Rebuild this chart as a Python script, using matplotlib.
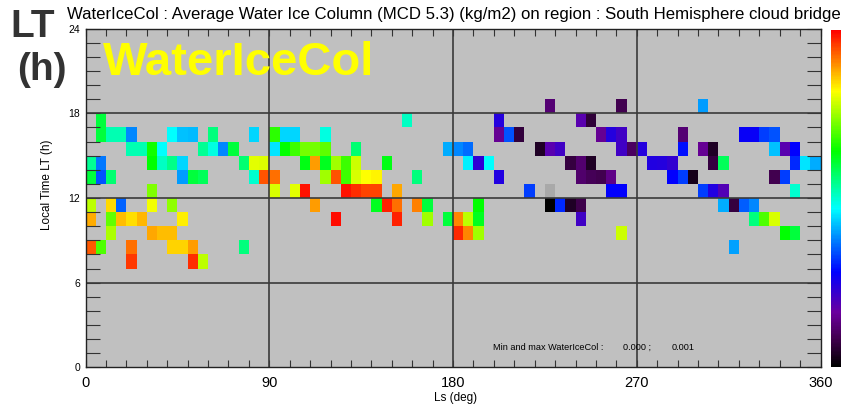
import matplotlib
matplotlib.use("Agg")
import matplotlib.pyplot as plt
import numpy as np
from matplotlib.colors import LinearSegmentedColormap
from matplotlib.ticker import MultipleLocator

# Water ice column per cell, in g/m2 (1e-3 kg/m2).
# One dict per local-time hour: {start of 5-deg Ls bin: value}
lt18 = {225: 0.12, 260: 0.085, 300: 0.395}
lt17 = {5: 0.60, 155: 0.51, 200: 0.24, 240: 0.18, 245: 0.06}
lt16 = {5: 0.60, 10: 0.52, 15: 0.52, 20: 0.38, 40: 0.47, 45: 0.425, 50: 0.42,
        60: 0.555, 80: 0.44, 90: 0.67, 95: 0.44, 100: 0.44, 115: 0.49,
        200: 0.15, 205: 0.34, 210: 0.065, 250: 0.15, 255: 0.24, 260: 0.21,
        290: 0.12, 320: 0.27, 325: 0.27, 330: 0.325, 335: 0.34}
lt15 = {20: 0.52, 25: 0.52, 30: 0.65, 35: 0.47, 55: 0.54, 60: 0.49, 65: 0.38,
        70: 0.60, 90: 0.45, 95: 0.64, 100: 0.68, 105: 0.72, 110: 0.72,
        115: 0.705, 130: 0.565, 175: 0.41, 180: 0.38, 185: 0.36, 220: 0.04,
        225: 0.18, 230: 0.21, 260: 0.21, 265: 0.10, 270: 0.24, 290: 0.29,
        300: 0.15, 305: 0.04, 335: 0.425, 340: 0.18, 345: 0.28}
lt14 = {0: 0.54, 5: 0.37, 30: 0.64, 35: 0.51, 40: 0.55, 45: 0.44, 75: 0.565,
        80: 0.80, 85: 0.795, 105: 0.625, 110: 0.89, 115: 0.62, 120: 0.75,
        125: 0.68, 130: 0.785, 145: 0.625, 185: 0.46, 190: 0.23, 195: 0.47,
        235: 0.07, 240: 0.115, 245: 0.04, 275: 0.245, 280: 0.24, 285: 0.225,
        305: 0.07, 310: 0.58, 345: 0.31, 350: 0.45, 355: 0.41}
lt13 = {0: 0.60, 5: 0.34, 10: 0.565, 45: 0.395, 50: 0.60, 55: 0.58, 80: 0.50,
        85: 0.94, 90: 0.92, 115: 0.75, 120: 0.94, 125: 0.68, 130: 0.79,
        135: 0.82, 140: 0.825, 160: 0.555, 200: 0.245, 240: 0.11, 245: 0.09,
        250: 0.085, 255: 0.14, 285: 0.28, 290: 0.325, 295: 0.03, 335: 0.085,
        340: 0.325}
lt12 = {30: 0.73, 90: 0.79, 100: 0.80, 105: 0.985, 125: 0.985, 130: 0.965,
        135: 0.95, 140: 0.95, 150: 0.88, 215: 0.325, 225: 1.10, 255: 0.28,
        260: 0.28, 300: 0.325, 305: 0.245, 310: 0.19, 345: 0.50}
lt11 = {0: 0.77, 10: 0.845, 15: 0.355, 30: 0.81, 40: 0.74, 110: 0.89,
        140: 0.62, 145: 0.975, 150: 0.92, 160: 0.91, 165: 0.60, 190: 0.64,
        225: 0.0, 230: 0.31, 235: 0.04, 240: 0.08, 310: 0.41, 315: 0.07,
        320: 0.35, 325: 0.38}
lt10 = {0: 0.875, 10: 0.71, 15: 0.865, 20: 0.84, 25: 0.87, 45: 0.83,
        120: 0.99, 150: 0.975, 165: 0.75, 175: 0.60, 180: 0.905, 185: 0.77,
        190: 0.62, 240: 0.21, 325: 0.555, 330: 0.695, 335: 0.79}
lt09 = {10: 0.76, 30: 0.88, 35: 0.865, 40: 0.865, 180: 0.97, 185: 0.905,
        190: 0.75, 260: 0.785, 340: 0.64, 345: 0.60}
lt08 = {0: 0.935, 5: 0.695, 20: 0.92, 40: 0.85, 45: 0.85, 50: 0.89,
        75: 0.555, 315: 0.40}
lt07 = {20: 0.96, 50: 0.965, 55: 0.77}

hour_rows = {18: lt18, 17: lt17, 16: lt16, 15: lt15, 14: lt14, 13: lt13,
             12: lt12, 11: lt11, 10: lt10, 9: lt09, 8: lt08, 7: lt07}

ls_edges = np.arange(0, 361, 5)
lt_edges = np.arange(0, 25, 1)

ice = np.full((len(lt_edges) - 1, len(ls_edges) - 1), np.nan)
for hour, cells in hour_rows.items():
    for ls, val in cells.items():
        ice[hour, ls // 5] = val
ice = np.ma.masked_invalid(ice)

# IDL-style rainbow: black -> purple -> blue -> cyan -> green -> yellow -> red
cmap = LinearSegmentedColormap.from_list("idl_rainbow", [
    (0.00, (0.0, 0.0, 0.0)),
    (0.08, (0.25, 0.0, 0.30)),
    (0.16, (0.42, 0.0, 0.62)),
    (0.28, (0.0, 0.0, 1.0)),
    (0.47, (0.0, 1.0, 1.0)),
    (0.64, (0.0, 1.0, 0.0)),
    (0.82, (1.0, 1.0, 0.0)),
    (1.00, (1.0, 0.0, 0.0)),
])
cmap.set_over("#a9a9a9")
cmap.set_bad((0, 0, 0, 0))

W, H = 846, 405
plt.rcParams["font.family"] = ["Liberation Sans", "DejaVu Sans"]
fig = plt.figure(figsize=(W / 100, H / 100), dpi=100)

ax = fig.add_axes([85.6 / W, 1 - 367.4 / H, 734.9 / W, 338.8 / H])
ax.set_facecolor("#c0c0c0")
mesh = ax.pcolormesh(ls_edges, lt_edges, ice, cmap=cmap, vmin=0, vmax=1, zorder=1)
ax.set_xlim(0, 360)
ax.set_ylim(0, 24)

for x in (90, 180, 270):
    ax.axvline(x, color="#3a3a3a", lw=1.2, zorder=2)
for y in (6, 12, 18):
    ax.axhline(y, color="#3a3a3a", lw=1.2, zorder=2)

ax.set_xticks([0, 90, 180, 270, 360])
ax.xaxis.set_minor_locator(MultipleLocator(10))
ax.tick_params(axis="x", which="both", direction="in", top=True,
               length=5, width=0.8, color="#333333", labelsize=10.5, pad=6)
ax.set_yticks([0, 6, 12, 18, 24])
ax.yaxis.set_minor_locator(MultipleLocator(1))
ax.tick_params(axis="y", which="both", direction="in", right=True,
               length=10, width=0.8, color="#333333", labelsize=7.5, pad=4)
for sp in ax.spines.values():
    sp.set_linewidth(1.0)
    sp.set_color("#222222")

ax.set_xlabel("Ls (deg)", fontsize=8.5)
ax.xaxis.set_label_coords(0.503, -0.072)
ax.set_ylabel("Local Time LT (h)", fontsize=8.5)
ax.yaxis.set_label_coords(-0.044, 0.538)

ax.text(0.554, 0.060, "Min and max WaterIceCol :", transform=ax.transAxes,
        fontsize=6.6, va="center", ha="left", zorder=4)
ax.text(0.731, 0.060, "0.000 ;", transform=ax.transAxes,
        fontsize=6.6, va="center", ha="left", zorder=4)
ax.text(0.798, 0.060, "0.001", transform=ax.transAxes,
        fontsize=6.6, va="center", ha="left", zorder=4)

# big yellow variable name over the plot area
fig.text(103 / W, 1 - 75 / H, "WaterIceCol", fontsize=34, fontweight="bold",
         color="#ffff00", va="baseline", ha="left", zorder=5)

fig.text(10 / W, 1 - 37 / H, "LT", fontsize=28, fontweight="bold",
         color="#333333", va="baseline", ha="left")
fig.text(17 / W, 1 - 80 / H, "(h)", fontsize=28, fontweight="bold",
         color="#333333", va="baseline", ha="left")

title = fig.text(67 / W, 1 - 15 / H,
                 "WaterIceCol : Average Water Ice Column (MCD 5.3) (kg/m2) "
                 "on region : South Hemisphere cloud bridge",
                 fontsize=10, va="center", ha="left")
# shrink/grow the title so it spans to the right edge
renderer = fig.canvas.get_renderer()
tw = title.get_window_extent(renderer).width
title.set_fontsize(10 * (843 - 67) / tw)

cax = fig.add_axes([830.7 / W, 1 - 366.7 / H, 10 / W, 336.7 / H])
cb = fig.colorbar(mesh, cax=cax)
cb.set_ticks([])
cb.outline.set_visible(False)

fig.savefig("out.png", dpi=100)
